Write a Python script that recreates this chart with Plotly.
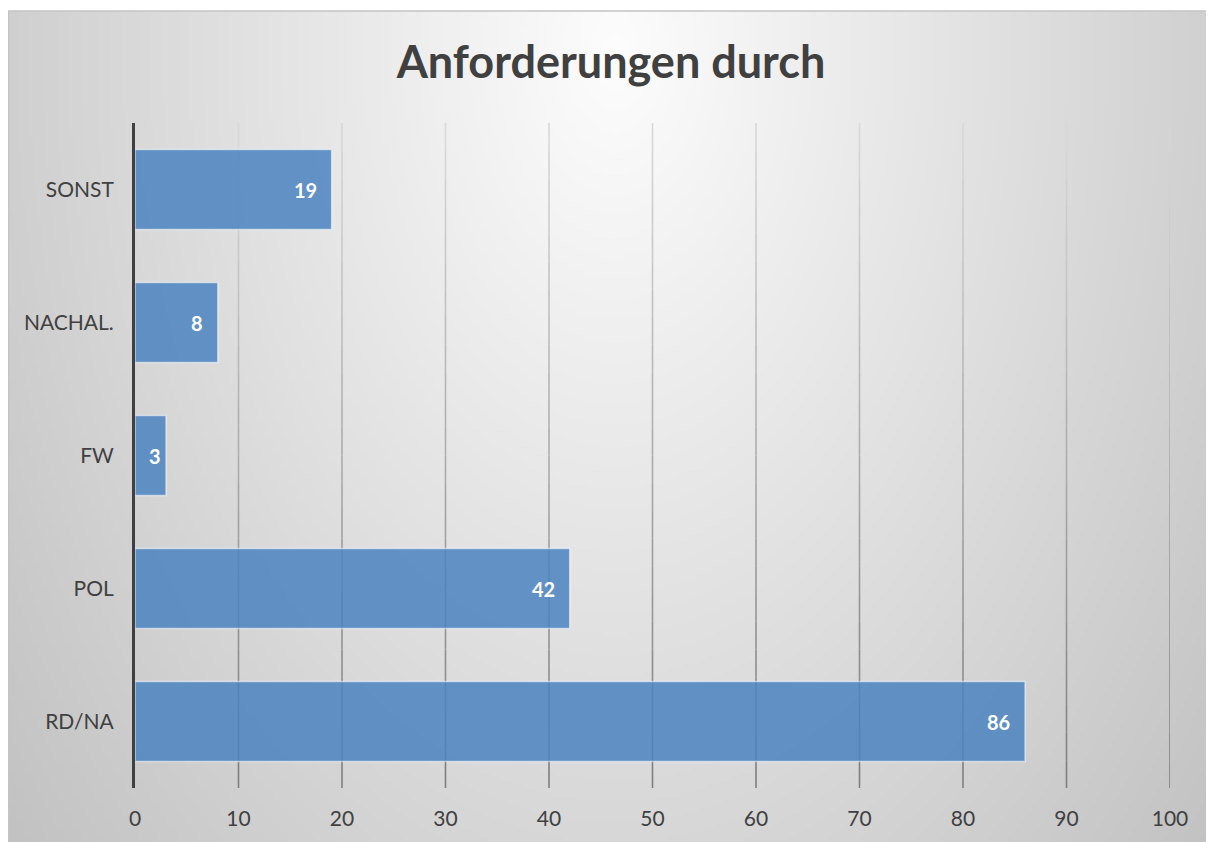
import base64
import struct
import zlib
import numpy as np
import plotly.graph_objects as go

# ---- data ----
categories = ["RD/NA", "POL", "FW", "NACHAL.", "SONST"]
values = [86, 42, 3, 8, 19]
x_ticks = [0, 10, 20, 30, 40, 50, 60, 70, 80, 90, 100]
title_text = "Anforderungen durch"

# ---- canvas geometry (page body has 8px margin) ----
W, H = 1206, 834
ML, MR, MT, MB = 127, 44, 115, 54
PW, PH = W - ML - MR, H - MT - MB
FRAME_X0, FRAME_Y0 = 0, 3


def px_to_paper_x(px):
    return (px - ML) / PW


def py_to_paper_y(py):
    return (H - MB - py) / PH


# ---- radial gradient background as PNG ----
def make_png(arr):
    h, w = arr.shape
    raw = b"".join(b"\x00" + arr[i].astype(np.uint8).tobytes() for i in range(h))

    def chunk(tag, data):
        c = struct.pack(">I", len(data)) + tag + data
        return c + struct.pack(">I", zlib.crc32(tag + data) & 0xFFFFFFFF)

    png = b"\x89PNG\r\n\x1a\n"
    png += chunk(b"IHDR", struct.pack(">IIBBBBB", w, h, 8, 0, 0, 0, 0))
    png += chunk(b"IDAT", zlib.compress(raw, 9))
    png += chunk(b"IEND", b"")
    return "data:image/png;base64," + base64.b64encode(png).decode()


S = 4
fw, fh = (W - FRAME_X0) // S, (H - FRAME_Y0) // S
yy, xx = np.mgrid[0:fh, 0:fw]
xx = xx * S + FRAME_X0
yy = yy * S + FRAME_Y0
cx, cy = 604, 40
d = np.sqrt(((xx - cx) / 640.0) ** 2 + ((yy - cy) / 1000.0) ** 2)
d = np.clip(d, 0, 1.25)
grad = 253 - 48 * d
bg_src = make_png(np.clip(grad, 0, 255))

fig = go.Figure()

fig.add_trace(
    go.Bar(
        x=values,
        y=categories,
        orientation="h",
        marker=dict(
            color="rgba(74,130,192,0.85)",
            line=dict(color="rgba(255,255,255,0.55)", width=1.5),
        ),
        width=0.6,
        hoverinfo="x+y",
    )
)

# value labels inside bar ends
for v, c in zip(values, categories):
    bar_px = v / 100 * PW
    fig.add_annotation(
        x=v,
        y=c,
        text=f"<b>{v}</b>",
        showarrow=False,
        xanchor="right",
        yanchor="middle",
        xshift=-13 if bar_px > 60 else -3,
        font=dict(family="Lato, sans-serif", size=20, color="white"),
    )

fig.add_layout_image(
    dict(
        source=bg_src,
        xref="paper",
        yref="paper",
        x=px_to_paper_x(FRAME_X0),
        y=py_to_paper_y(FRAME_Y0),
        sizex=px_to_paper_x(W) - px_to_paper_x(FRAME_X0),
        sizey=py_to_paper_y(FRAME_Y0) - py_to_paper_y(H),
        xanchor="left",
        yanchor="top",
        sizing="stretch",
        layer="below",
    )
)

# frame border
fig.add_shape(
    type="rect",
    xref="paper",
    yref="paper",
    x0=px_to_paper_x(FRAME_X0 + 0.5),
    x1=px_to_paper_x(W + 2),
    y0=py_to_paper_y(H + 2),
    y1=py_to_paper_y(FRAME_Y0),
    line=dict(color="#C4C4C4", width=1.5),
    fillcolor="rgba(0,0,0,0)",
    layer="below",
)

# vertical gridlines with a light-to-dark gradient (top to bottom)
NSEG = 24
for t in x_ticks[1:]:
    for k in range(NSEG):
        y1 = 1 - k / NSEG
        y0 = 1 - (k + 1) / NSEG
        g = int(round(218 - (218 - 125) * (k + 0.5) / NSEG))
        fig.add_shape(
            type="line",
            xref="x",
            yref="paper",
            x0=t,
            x1=t,
            y0=y0,
            y1=y1,
            line=dict(color=f"rgb({g},{g},{g})", width=1.6),
            layer="below",
        )

fig.update_layout(
    width=W,
    height=H,
    margin=dict(l=ML, r=MR, t=MT, b=MB, autoexpand=False),
    paper_bgcolor="white",
    plot_bgcolor="rgba(0,0,0,0)",
    showlegend=False,
    title=dict(
        text=f"<b>{title_text}</b>",
        x=0.5,
        xref="container",
        xanchor="center",
        y=1 - 54 / H,
        yref="container",
        yanchor="middle",
        font=dict(family="Lato, sans-serif", size=45, color="#404040"),
    ),
    xaxis=dict(
        range=[0, 100],
        tickvals=x_ticks,
        ticktext=[str(t) for t in x_ticks],
        showgrid=False,
        zeroline=False,
        showline=False,
        ticks="",
        automargin=False,
        ticklabelstandoff=16,
        tickfont=dict(family="Lato, sans-serif", size=21, color="#404040"),
        fixedrange=True,
    ),
    yaxis=dict(
        categoryorder="array",
        categoryarray=categories,
        showgrid=False,
        zeroline=False,
        showline=True,
        linecolor="#404040",
        linewidth=3,
        layer="above traces",
        ticks="",
        automargin=False,
        ticklabelstandoff=14,
        tickfont=dict(family="Lato, sans-serif", size=21, color="#404040"),
        fixedrange=True,
    ),
    bargap=0.4,
)

fig.write_html("out.html")
